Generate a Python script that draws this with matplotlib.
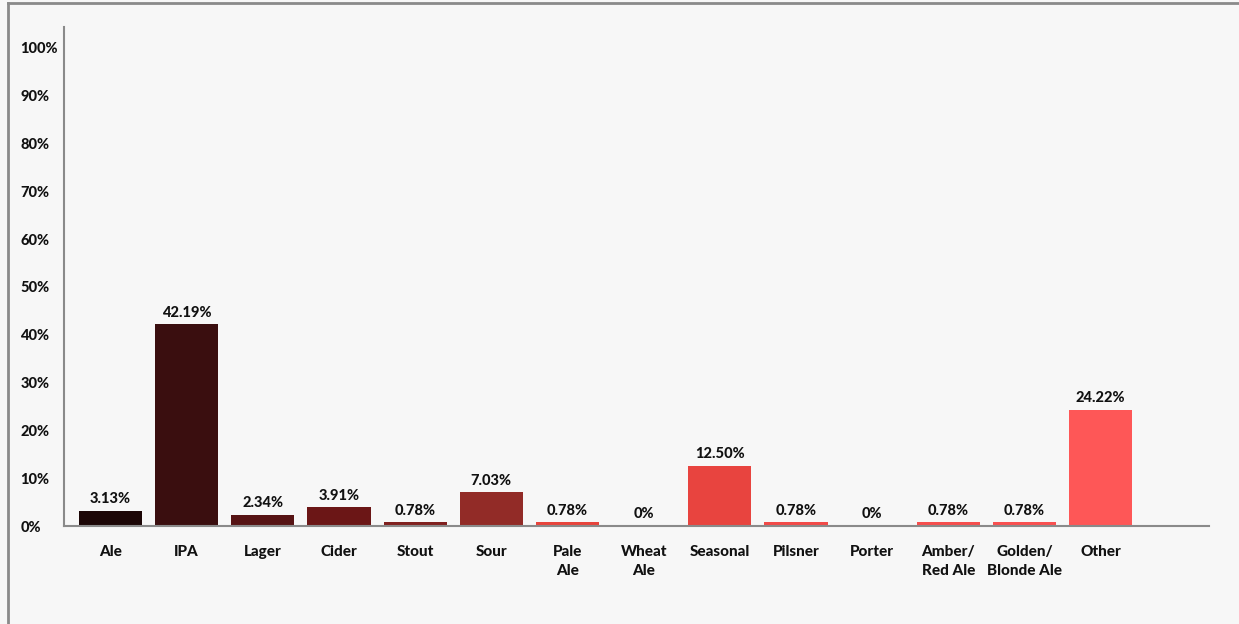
import matplotlib
matplotlib.use("Agg")
import matplotlib.pyplot as plt
from matplotlib.lines import Line2D

# beer styles and their share (%)
styles = ["Ale", "IPA", "Lager", "Cider", "Stout", "Sour", "Pale\nAle", "Wheat\nAle",
          "Seasonal", "Pilsner", "Porter", "Amber/\nRed Ale", "Golden/\nBlonde Ale", "Other"]
shares = [3.13, 42.19, 2.34, 3.91, 0.78, 7.03, 0.78, 0, 12.50, 0.78, 0, 0.78, 0.78, 24.22]
share_labels = ["3.13%", "42.19%", "2.34%", "3.91%", "0.78%", "7.03%", "0.78%", "0%",
                "12.50%", "0.78%", "0%", "0.78%", "0.78%", "24.22%"]
bar_colors = ["#1c0606", "#3a0e0f", "#561314", "#6b1616", "#80201e", "#922b27", "#e8443c",
              "#e8443c", "#e8443f", "#f24a48", "#f44c4a", "#f64e4d", "#f95050", "#fe5757"]
yticks = [0, 10, 20, 30, 40, 50, 60, 70, 80, 90, 100]

plt.rcParams["font.family"] = ["Lato", "DejaVu Sans"]

fig = plt.figure(figsize=(12.39, 6.24), dpi=100)
fig.patch.set_facecolor("#f7f7f7")

# grey frame on top and left of the picture
fig.add_artist(Line2D([0.0065, 0.0065], [0, 0.995], transform=fig.transFigure,
                      color="#8a8a8a", lw=2))
fig.add_artist(Line2D([0.0065, 1.0], [0.995, 0.995], transform=fig.transFigure,
                      color="#8a8a8a", lw=2))

ax = fig.add_axes([0.0517, 0.157, 0.924, 0.80])
ax.set_facecolor("#f7f7f7")

x = list(range(len(styles)))
ax.bar(x, shares, width=0.83, color=bar_colors)

for xi, v, lab in zip(x, shares, share_labels):
    ax.text(xi, v + 1.0, lab, ha="center", va="bottom", fontsize=10.5,
            fontweight="black", color="#111111")

ax.set_xlim(-0.61, 14.42)
ax.set_ylim(0, 104.4)

ax.set_xticks(x)
ax.set_xticklabels(styles, fontsize=11, fontweight="black", color="#111111",
                   linespacing=1.45, va="top")
ax.set_yticks(yticks)
ax.set_yticklabels([f"{t}%" for t in yticks], fontsize=10.5, fontweight="black",
                   color="#111111")
ax.tick_params(axis="both", length=0)
ax.tick_params(axis="x", pad=14)
for lab in ax.get_yticklabels():
    lab.set_horizontalalignment("left")
    lab.set_x(-0.034)

for s in ["top", "right"]:
    ax.spines[s].set_visible(False)
ax.spines["left"].set_color("#8a8a8a")
ax.spines["bottom"].set_color("#8a8a8a")
ax.spines["left"].set_linewidth(1.5)
ax.spines["bottom"].set_linewidth(1.5)

fig.savefig("out.png", dpi=100, facecolor=fig.get_facecolor())
